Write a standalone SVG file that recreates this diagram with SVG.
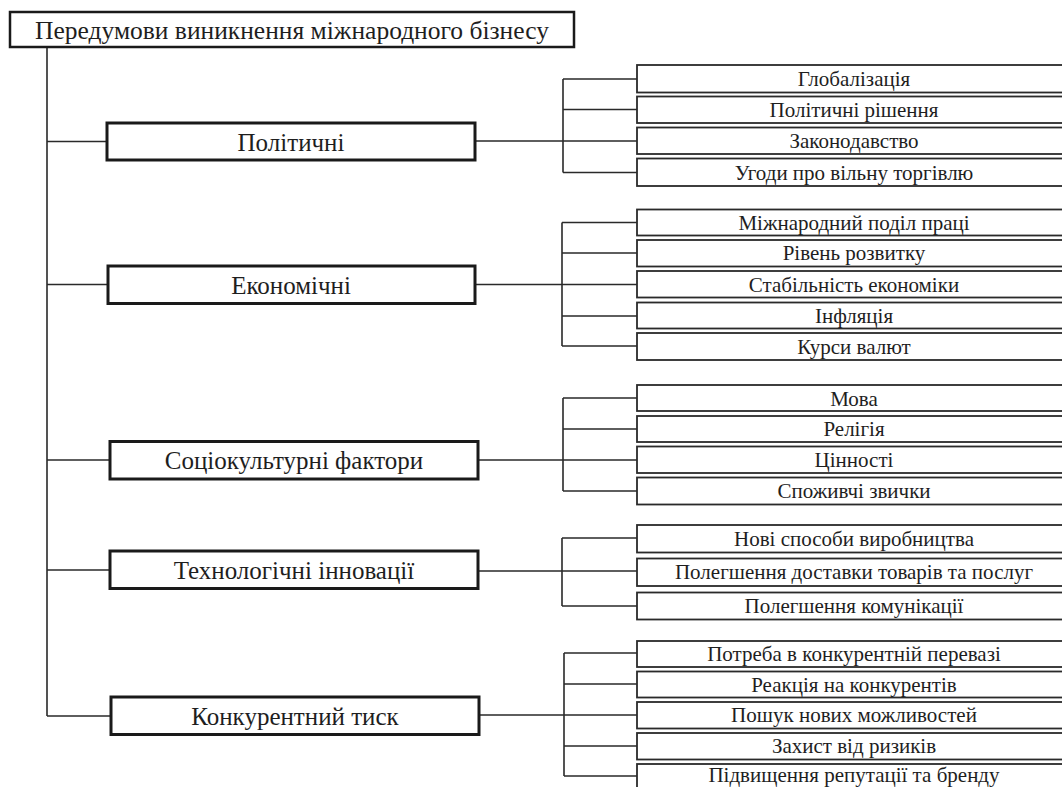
<svg xmlns="http://www.w3.org/2000/svg" width="1062" height="787" viewBox="0 0 1062 787">
<style>
.main{fill:#fff;stroke:#1a1a1a;stroke-width:3}
.root{fill:#fff;stroke:#1a1a1a;stroke-width:2.5}
.leaf{fill:#fff;stroke:#2a2a2a;stroke-width:1.8}
.ln{fill:none;stroke:#2a2a2a;stroke-width:1.6}
text{font-family:"Liberation Serif","Times New Roman",serif;fill:#1e1e1e;text-anchor:middle;dominant-baseline:central}
.tr{font-size:25.5px}
.tm{font-size:25px}
.tl{font-size:21px}
</style>
<rect width="1062" height="787" fill="#fff"/>
<g id="connectors">
<path class="ln" d="M47 47V716M47 141.5H107M47 284.5H108M47 460H110M47 570H110M47 716H111"/>
<path class="ln" d="M475 141H637M563 79V172.5M563 79H637M563 109.5H637M563 172.5H637"/>
<path class="ln" d="M475 284.5H637M562 222.5V346M562 222.5H637M562 253H637M562 316H637M562 346H637"/>
<path class="ln" d="M478 460H637M563 398V491M563 398H637M563 429H637M563 491H637"/>
<path class="ln" d="M478 571H637M562 538V606M562 538H637M562 606H637"/>
<path class="ln" d="M479 715H637M564 653V776M564 653H637M564 684H637M564 746H637M564 776H637"/>
</g>
<g id="root"><rect class="root" x="10" y="12" width="564" height="35"/><text class="tr" x="292" y="30">Передумови виникнення міжнародного бізнесу</text></g>
<g id="n-polit"><rect class="main" x="107" y="123" width="368" height="37"/><text class="tm" x="291" y="142">Політичні</text></g>
<g id="n-econ"><rect class="main" x="108" y="266" width="367" height="37.5"/><text class="tm" x="291" y="285">Економічні</text></g>
<g id="n-soc"><rect class="main" x="110" y="441.5" width="368" height="37.5"/><text class="tm" x="294" y="460">Соціокультурні фактори</text></g>
<g id="n-tech"><rect class="main" x="110" y="551" width="368" height="37.5"/><text class="tm" x="294" y="570">Технологічні інновації</text></g>
<g id="n-comp"><rect class="main" x="111" y="697" width="368" height="37.5"/><text class="tm" x="295" y="716">Конкурентний тиск</text></g>
<g id="l-p1"><rect class="leaf" x="637" y="65" width="440" height="27.5"/><text class="tl" x="854" y="79">Глобалізація</text></g>
<g id="l-p2"><rect class="leaf" x="637" y="96.5" width="440" height="26.5"/><text class="tl" x="854" y="110">Політичні рішення</text></g>
<g id="l-p3"><rect class="leaf" x="637" y="127.5" width="440" height="26.5"/><text class="tl" x="854" y="141">Законодавство</text></g>
<g id="l-p4"><rect class="leaf" x="637" y="158.5" width="440" height="27.5"/><text class="tl" x="854" y="172.5">Угоди про вільну торгівлю</text></g>
<g id="l-e1"><rect class="leaf" x="637" y="209.5" width="440" height="26"/><text class="tl" x="854" y="223">Міжнародний поділ праці</text></g>
<g id="l-e2"><rect class="leaf" x="637" y="240" width="440" height="26.5"/><text class="tl" x="854" y="253">Рівень розвитку</text></g>
<g id="l-e3"><rect class="leaf" x="637" y="271" width="440" height="26.5"/><text class="tl" x="854" y="284.5">Стабільність економіки</text></g>
<g id="l-e4"><rect class="leaf" x="637" y="302.5" width="440" height="26"/><text class="tl" x="854" y="316">Інфляція</text></g>
<g id="l-e5"><rect class="leaf" x="637" y="333" width="440" height="27"/><text class="tl" x="854" y="346.5">Курси валют</text></g>
<g id="l-s1"><rect class="leaf" x="637" y="385" width="440" height="26"/><text class="tl" x="854" y="398.5">Мова</text></g>
<g id="l-s2"><rect class="leaf" x="637" y="416" width="440" height="26"/><text class="tl" x="854" y="429">Релігія</text></g>
<g id="l-s3"><rect class="leaf" x="637" y="446.5" width="440" height="26.5"/><text class="tl" x="854" y="460">Цінності</text></g>
<g id="l-s4"><rect class="leaf" x="637" y="477.5" width="440" height="27"/><text class="tl" x="854" y="491">Споживчі звички</text></g>
<g id="l-t1"><rect class="leaf" x="637" y="525" width="440" height="27.5"/><text class="tl" x="854" y="539">Нові способи виробництва</text></g>
<g id="l-t2"><rect class="leaf" x="637" y="558.5" width="440" height="27.5"/><text class="tl" x="854" y="572">Полегшення доставки товарів та послуг</text></g>
<g id="l-t3"><rect class="leaf" x="637" y="592.5" width="440" height="27"/><text class="tl" x="854" y="606">Полегшення комунікації</text></g>
<g id="l-c1"><rect class="leaf" x="637" y="641" width="440" height="26"/><text class="tl" x="854" y="654">Потреба в конкурентній перевазі</text></g>
<g id="l-c2"><rect class="leaf" x="637" y="671.5" width="440" height="26"/><text class="tl" x="854" y="684.5">Реакція на конкурентів</text></g>
<g id="l-c3"><rect class="leaf" x="637" y="702" width="440" height="26.5"/><text class="tl" x="854" y="715">Пошук нових можливостей</text></g>
<g id="l-c4"><rect class="leaf" x="637" y="733" width="440" height="26.5"/><text class="tl" x="854" y="746">Захист від ризиків</text></g>
<g id="l-c5"><rect class="leaf" x="637" y="764" width="440" height="30"/><text class="tl" x="854" y="775">Підвищення репутації та бренду</text></g>
</svg>
